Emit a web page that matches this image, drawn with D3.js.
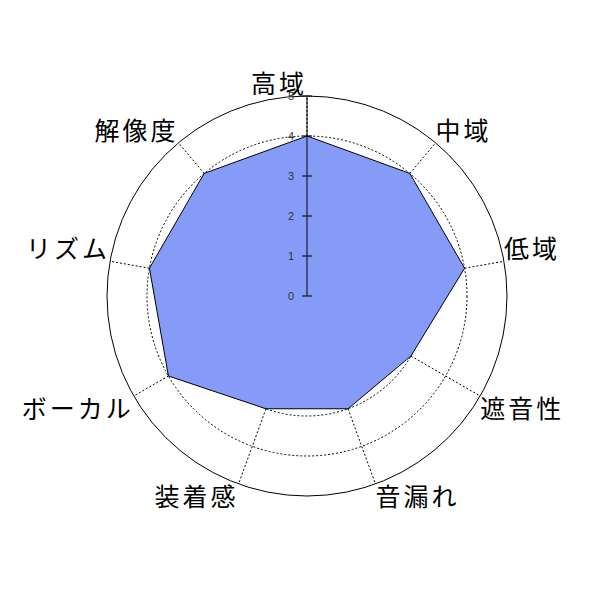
<!DOCTYPE html>
<html>
<head>
<meta charset="utf-8">
<script src="https://cdn.jsdelivr.net/npm/d3@7"></script>
<style>
  body { margin: 0; background: #fff; }
  .label { font-family: "Noto Sans CJK JP", sans-serif; font-size: 25px; letter-spacing: 3px; fill: #000; }
  .tick-label { font-family: "Liberation Sans", Arial, sans-serif; font-size: 11px; fill: #333; }
</style>
</head>
<body>
<svg width="600" height="600"></svg>
<script>
// axes of the radar, clockwise from the top
const categories = ['高域', '中域', '低域', '遮音性', '音漏れ', '装着感', 'ボーカル', 'リズム', '解像度'];
const values = [4, 4, 4, 3, 3, 3, 4, 4, 4];
const tickValues = [0, 1, 2, 3, 4, 5];
const maxValue = 5;

const svg = d3.select('svg');
const cx = 307, cy = 296;
const radius = 200;

const chart = svg.append('g')
    .attr('transform', `translate(${cx}, ${cy})`);

const rScale = d3.scaleLinear()
    .domain([0, maxValue])
    .range([0, radius]);

const angleScale = d3.scaleLinear()
    .domain([0, categories.length])
    .range([0, 2 * Math.PI]);

const point = (i, v) => [
    rScale(v) * Math.sin(angleScale(i)),
    -rScale(v) * Math.cos(angleScale(i))
];

// dotted grid circles, solid outer one
chart.selectAll('.grid')
    .data(tickValues.filter((t) => t > 0))
    .enter()
    .append('circle')
    .attr('r', (t) => rScale(t))
    .attr('fill', 'none')
    .attr('stroke', '#000')
    .attr('stroke-width', 1)
    .attr('stroke-dasharray', (t) => t === maxValue ? null : '2,2');

// dotted spokes
chart.selectAll('.spoke')
    .data(categories)
    .enter()
    .append('line')
    .attr('x1', 0)
    .attr('y1', 0)
    .attr('x2', (d, i) => point(i, maxValue)[0])
    .attr('y2', (d, i) => point(i, maxValue)[1])
    .attr('stroke', '#000')
    .attr('stroke-dasharray', '2,2');

// the data polygon
const line = d3.line()
    .x((d) => d[0])
    .y((d) => d[1])
    .curve(d3.curveLinearClosed);

chart.append('path')
    .datum(values.map((v, i) => point(i, v)))
    .attr('d', line)
    .attr('fill', '#859bf7')
    .attr('stroke', '#000')
    .attr('stroke-width', 1);

// vertical value axis
const yScale = d3.scaleLinear()
    .domain([0, maxValue])
    .range([0, -radius]);

chart.append('line')
    .attr('x1', 0)
    .attr('y1', yScale(0))
    .attr('x2', 0)
    .attr('y2', yScale(maxValue))
    .attr('stroke', '#000');

chart.selectAll('.tick')
    .data(tickValues)
    .enter()
    .append('line')
    .attr('x1', -5)
    .attr('x2', 5)
    .attr('y1', (t) => yScale(t))
    .attr('y2', (t) => yScale(t))
    .attr('stroke', '#000');

chart.selectAll('.tick-label')
    .data(tickValues)
    .enter()
    .append('text')
    .attr('class', 'tick-label')
    .attr('x', -13)
    .attr('y', (t) => yScale(t))
    .attr('dy', '0.35em')
    .attr('text-anchor', 'end')
    .text((t) => t);

// category labels hang off the outer ring
chart.selectAll('.label')
    .data(categories)
    .enter()
    .append('text')
    .attr('class', 'label')
    .attr('x', (d, i) => point(i, maxValue)[0])
    .attr('y', (d, i) => point(i, maxValue)[1])
    .attr('text-anchor', (d, i) => Math.sin(angleScale(i)) > 0.001 ? 'start' : 'end')
    .attr('dy', (d, i) => Math.cos(angleScale(i)) >= 0 ? '-0.12em' : '0.88em')
    .text((d) => d);
</script>
</body>
</html>
